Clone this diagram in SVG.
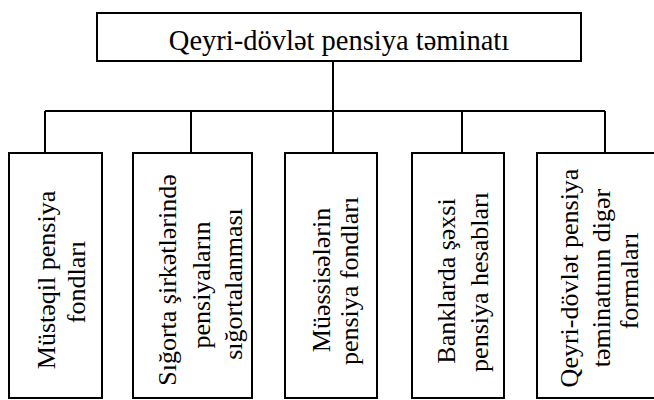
<svg xmlns="http://www.w3.org/2000/svg" width="654" height="400" viewBox="0 0 654 400">
<style>
.box{fill:#fff;stroke:#000;stroke-width:2}
.ln{stroke:#000;stroke-width:2;fill:none}
.sr{font-family:"Liberation Serif","Times New Roman",serif;fill:#000}
.v{font-size:26px;text-anchor:middle}
</style>
<rect width="654" height="400" fill="#fff"/>
<g id="connectors">
<path class="ln" d="M333,61 V111 M45,111 H605 M45,111 V153 M191,111 V153 M333,111 V153 M462,111 V153 M605,111 V153"/>
</g>
<g id="root">
<rect class="box" x="97" y="13" width="484" height="48"/>
<text class="sr" x="339" y="50" font-size="28.5" text-anchor="middle">Qeyri-dövlət pensiya təminatı</text>
</g>
<g id="n1">
<rect class="box" x="9" y="153" width="93" height="245"/>
<text class="sr v" transform="translate(55,280) rotate(-90)">Müstəqil pensiya</text>
<text class="sr v" transform="translate(85,282) rotate(-90)">fondları</text>
</g>
<g id="n2">
<rect class="box" x="133" y="153" width="119" height="245"/>
<text class="sr v" transform="translate(176,280) rotate(-90)">Sığorta şirkətlərində</text>
<text class="sr v" transform="translate(210,285) rotate(-90)">pensiyaların</text>
<text class="sr v" transform="translate(242,284) rotate(-90)">sığortalanması</text>
</g>
<g id="n3">
<rect class="box" x="285" y="153" width="92" height="245"/>
<text class="sr v" transform="translate(330,280) rotate(-90)">Müəssisələrin</text>
<text class="sr v" transform="translate(358,281) rotate(-90)">pensiya fondları</text>
</g>
<g id="n4">
<rect class="box" x="412" y="153" width="92" height="245"/>
<text class="sr v" transform="translate(455,281) rotate(-90)">Banklarda şəxsi</text>
<text class="sr v" transform="translate(488,282) rotate(-90)">pensiya hesabları</text>
</g>
<g id="n5">
<rect class="box" x="537" y="153" width="136" height="245"/>
<text class="sr v" transform="translate(578,278) rotate(-90)">Qeyri-dövlət pensiya</text>
<text class="sr v" transform="translate(610,278) rotate(-90)">təminatının digər</text>
<text class="sr v" transform="translate(638,281) rotate(-90)">formaları</text>
</g>
</svg>
